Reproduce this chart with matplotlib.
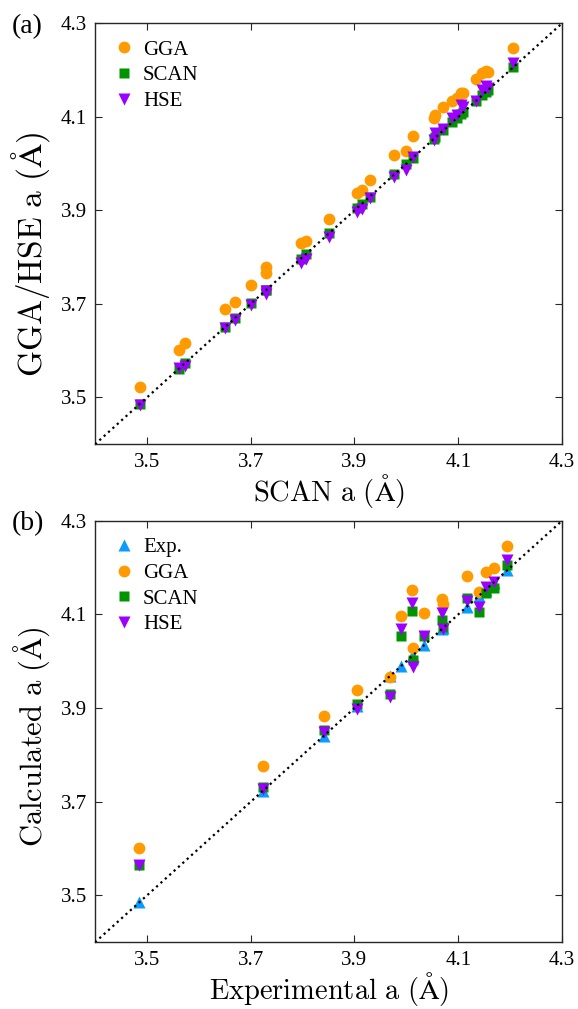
import matplotlib
matplotlib.use("Agg")
import matplotlib.pyplot as plt

plt.rcParams['font.family'] = ['Liberation Serif', 'DejaVu Serif']
plt.rcParams['mathtext.fontset'] = 'cm'

# (a) SCAN lattice constant vs GGA / HSE
scan_a = [3.487, 3.561, 3.573, 3.651, 3.670, 3.701, 3.729, 3.730, 3.797, 3.806,
          3.851, 3.905, 3.914, 3.929, 3.977, 3.999, 4.013, 4.053, 4.056, 4.071,
          4.088, 4.098, 4.106, 4.110, 4.134, 4.146, 4.154, 4.157, 4.206]
gga_a = [3.523, 3.602, 3.616, 3.689, 3.704, 3.741, 3.766, 3.778, 3.830, 3.835,
         3.882, 3.938, 3.944, 3.965, 4.019, 4.028, 4.058, 4.097, 4.104, 4.122,
         4.133, 4.140, 4.152, 4.150, 4.180, 4.193, 4.199, 4.196, 4.247]
hse_a = [3.485, 3.563, 3.567, 3.648, 3.665, 3.697, 3.721, 3.727, 3.787, 3.797,
         3.843, 3.897, 3.904, 3.926, 3.971, 3.986, 4.015, 4.051, 4.066, 4.075,
         4.097, 4.105, 4.125, 4.120, 4.133, 4.157, 4.165, 4.162, 4.216]

# (b) experimental lattice constant vs calculated
exp_b = [3.485, 3.723, 3.841, 3.904, 3.969, 3.989, 4.011, 4.012, 4.034, 4.069,
         4.071, 4.116, 4.140, 4.153, 4.168, 4.194]
gga_b = [3.602, 3.777, 3.883, 3.939, 3.966, 4.097, 4.153, 4.029, 4.104, 4.132,
         4.122, 4.182, 4.148, 4.191, 4.200, 4.247]
scan_b = [3.564, 3.731, 3.853, 3.909, 3.930, 4.054, 4.107, 4.003, 4.055, 4.089,
          4.074, 4.136, 4.106, 4.145, 4.156, 4.205]
hse_b = [3.566, 3.727, 3.850, 3.899, 3.924, 4.068, 4.124, 3.988, 4.054, 4.104,
         4.068, 4.129, 4.116, 4.159, 4.170, 4.216]

ticks = [3.5, 3.7, 3.9, 4.1, 4.3]
lims = [3.4, 4.3]

c_exp = '#0a9bff'
c_gga = '#ff9a00'
c_scan = '#009400'
c_hse = '#9b00ff'

fig = plt.figure(figsize=(5.78, 10.09), dpi=100)
ax1 = fig.add_axes([0.1644, 0.5597, 0.808, 0.4172])
ax2 = fig.add_axes([0.1644, 0.0661, 0.808, 0.4178])

ax1.plot(lims, lims, ':', color='k', lw=1.6, zorder=5)
ax1.plot(scan_a, gga_a, 'o', color=c_gga, ms=8.5, mec='none', label='GGA')
ax1.plot(scan_a, scan_a, 's', color=c_scan, ms=7, mec='none', label='SCAN')
ax1.plot(scan_a, hse_a, 'v', color=c_hse, ms=9, mec='none', label='HSE')
ax1.set_xlabel(r'$\mathrm{SCAN\ a\ (\AA)}$', fontsize=20.5, va='bottom')
ax1.set_ylabel(r'$\mathrm{GGA/HSE\ a\ (\AA)}$', fontsize=24)
ax1.xaxis.set_label_coords(0.5, -0.156)
ax1.yaxis.set_label_coords(-0.092, 0.45)

ax2.plot(lims, lims, ':', color='k', lw=1.6, zorder=5)
ax2.plot(exp_b, exp_b, '^', color=c_exp, ms=9, mec='none', label='Exp.')
ax2.plot(exp_b, gga_b, 'o', color=c_gga, ms=8.5, mec='none', label='GGA')
ax2.plot(exp_b, scan_b, 's', color=c_scan, ms=7, mec='none', label='SCAN')
ax2.plot(exp_b, hse_b, 'v', color=c_hse, ms=9, mec='none', label='HSE')
ax2.set_xlabel(r'$\mathrm{Experimental\ a\ (\AA)}$', fontsize=20.5, va='bottom')
ax2.set_ylabel(r'$\mathrm{Calculated\ a\ (\AA)}$', fontsize=22)
ax2.xaxis.set_label_coords(0.5, -0.156)
ax2.yaxis.set_label_coords(-0.092, 0.488)

for ax, tag in [(ax1, '(a)'), (ax2, '(b)')]:
    ax.set_xlim(lims)
    ax.set_ylim(lims)
    ax.set_xticks(ticks)
    ax.set_yticks(ticks)
    ax.set_xticklabels(['%.1f' % t for t in ticks])
    ax.set_yticklabels(['%.1f' % t for t in ticks])
    ax.tick_params(direction='in', top=True, right=True, length=5,
                   labelsize=15, color='#262626')
    ax.tick_params(axis='x', pad=6)
    ax.tick_params(axis='y', pad=6)
    for s in ax.spines.values():
        s.set_color('#262626')
        s.set_linewidth(1.0)
    ax.legend(loc='upper left', frameon=False, fontsize=15, handletextpad=0.3,
              borderaxespad=0.4, labelspacing=0.3, handlelength=1.2,
              borderpad=0.4)
    ax.text(-0.178, 0.993, tag, transform=ax.transAxes, fontsize=20,
            va='center', ha='left')

fig.savefig('out.png', dpi=100)
